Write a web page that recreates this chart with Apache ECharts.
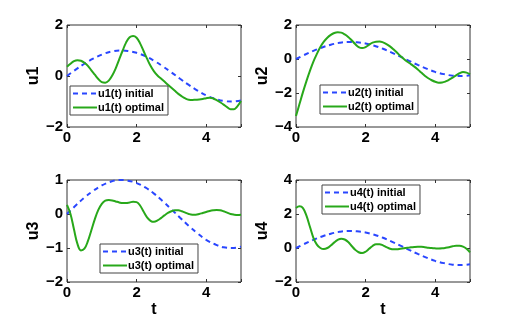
<!DOCTYPE html>
<html><head><meta charset="utf-8">
<script src="https://cdn.jsdelivr.net/npm/echarts@6/dist/echarts.min.js"></script>
<style>html,body{margin:0;padding:0;background:#fff}#c{width:519px;height:327px}</style>
</head><body><div id="c"></div>
<script>
// time grids
var tInit = [0,0.25,0.5,0.75,1,1.25,1.5,1.75,2,2.25,2.5,2.75,3,3.25,3.5,3.75,4,4.25,4.5,4.75,5];
var tOpt = [0,0.1,0.2,0.3,0.4,0.5,0.6,0.7,0.8,0.9,1,1.1,1.2,1.3,1.4,1.5,1.6,1.7,1.8,1.9,2,2.1,2.2,2.3,2.4,2.5,2.6,2.7,2.8,2.9,3,3.1,3.2,3.3,3.4,3.5,3.6,3.7,3.8,3.9,4,4.1,4.2,4.3,4.4,4.5,4.6,4.7,4.8,4.9,5];

// initial controls (blue dashed)
var u1Init = [0,0.25,0.48,0.68,0.84,0.95,1.0,0.98,0.91,0.78,0.6,0.38,0.14,-0.11,-0.35,-0.57,-0.76,-0.89,-0.98,-1.0,-0.96];
var u2Init = [0,0.25,0.48,0.68,0.84,0.95,1.0,0.98,0.91,0.78,0.6,0.38,0.14,-0.11,-0.35,-0.57,-0.76,-0.89,-0.98,-1.0,-0.96];
var u3Init = [0,0.25,0.48,0.68,0.84,0.95,1.0,0.98,0.91,0.78,0.6,0.38,0.14,-0.11,-0.35,-0.57,-0.76,-0.89,-0.98,-1.0,-0.96];
var u4Init = [0,0.25,0.48,0.68,0.84,0.95,1.0,0.98,0.91,0.78,0.6,0.38,0.14,-0.11,-0.35,-0.57,-0.76,-0.89,-0.98,-1.0,-0.96];

// optimal controls (green solid)
var u1Opt = [0.36,0.48,0.58,0.62,0.60,0.52,0.40,0.22,0.05,-0.12,-0.24,-0.26,-0.18,0.02,0.30,0.65,1.00,1.32,1.52,1.57,1.50,1.28,0.98,0.68,0.40,0.18,0.02,-0.10,-0.22,-0.34,-0.46,-0.58,-0.70,-0.80,-0.88,-0.93,-0.94,-0.93,-0.92,-0.90,-0.87,-0.85,-0.88,-0.95,-1.03,-1.12,-1.22,-1.30,-1.30,-1.18,-0.98];
var u2Opt = [-3.35,-2.65,-1.95,-1.3,-0.7,-0.15,0.3,0.7,1.02,1.25,1.42,1.53,1.57,1.55,1.45,1.3,1.1,0.88,0.7,0.64,0.7,0.84,0.96,1.02,1.03,0.98,0.88,0.74,0.57,0.38,0.18,0.0,-0.16,-0.3,-0.45,-0.62,-0.8,-0.98,-1.13,-1.25,-1.34,-1.39,-1.38,-1.32,-1.22,-1.1,-0.96,-0.84,-0.77,-0.8,-0.9];
var u3Opt = [0.27,0.0,-0.45,-0.88,-1.07,-1.02,-0.8,-0.48,-0.15,0.12,0.3,0.39,0.41,0.4,0.37,0.34,0.32,0.32,0.34,0.36,0.35,0.25,0.07,-0.1,-0.2,-0.23,-0.19,-0.12,-0.04,0.03,0.08,0.11,0.11,0.08,0.04,0.0,-0.02,-0.02,0.0,0.03,0.06,0.09,0.11,0.12,0.11,0.08,0.04,0.0,-0.02,-0.03,-0.02];
var u4Opt = [2.35,2.45,2.35,1.9,1.25,0.6,0.2,0.0,-0.06,0.0,0.15,0.33,0.48,0.55,0.5,0.35,0.12,-0.1,-0.25,-0.3,-0.22,-0.05,0.12,0.22,0.22,0.15,0.05,-0.04,-0.08,-0.08,-0.05,-0.02,0.01,0.04,0.06,0.07,0.07,0.05,0.02,0.0,-0.02,-0.03,-0.02,0.01,0.05,0.1,0.13,0.13,0.08,-0.05,-0.26];

// axis ticks
var xTicks = [0,2,4];
var xRange = [0,5];
var yTicks1 = [-2,0,2];
var yTicks2 = [-4,-2,0,2];
var yTicks3 = [-2,-1,0,1];
var yTicks4 = [-2,0,2,4];
var yNames = ['u1','u2','u3','u4'];
var legendNames = [['u1(t) initial','u1(t) optimal'],['u2(t) initial','u2(t) optimal'],['u3(t) initial','u3(t) optimal'],['u4(t) initial','u4(t) optimal']];

var inits = [u1Init,u2Init,u3Init,u4Init];
var opts = [u1Opt,u2Opt,u3Opt,u4Opt];
var yTickSets = [yTicks1,yTicks2,yTicks3,yTicks4];

function pairs(t, v){ return t.map(function(x,i){return [x,v[i]];}); }
function fmt(v){ return v < 0 ? '\u2212' + Math.abs(v) : String(v); }
function fmtX(v){ return xTicks.indexOf(v) >= 0 ? fmt(v) : ''; }

var FONT = '"Liberation Sans", Arial, sans-serif';
var grids = [
  {left:67, top:25, width:174, height:102},
  {left:296, top:25, width:174, height:102},
  {left:67, top:180, width:174, height:102},
  {left:296, top:180, width:174, height:102}
];
var legendPos = [
  {left:70, top:86},
  {left:320, top:85},
  {left:100, top:244},
  {left:322, top:185}
];

var option = {
  animation:false,
  backgroundColor:'#fff',
  grid: grids.map(function(g){ return Object.assign({show:true, borderColor:'#333', borderWidth:1, backgroundColor:'#fff'}, g); }),
  xAxis: [], yAxis: [], series: [], legend: []
};

var tickStyle = {show:true, inside:true, length:3, lineStyle:{color:'#333'}};
for (var k=0;k<4;k++){
  var yt = yTickSets[k];
  var ymin = yt[0], ymax = yt[yt.length-1], yint = yt[1]-yt[0];
  var bottomRow = k>=2;
  option.xAxis.push({
    type:'value', gridIndex:k, position:'bottom', min:xRange[0], max:xRange[1], interval:xTicks[1]-xTicks[0],
    axisLine:{show:false, onZero:false}, splitLine:{show:false},
    axisTick:tickStyle,
    axisLabel:{show:true, margin:3, color:'#000', fontFamily:FONT, fontWeight:'bold', fontSize:15, formatter:fmtX},
    name: bottomRow ? 't' : '', nameLocation:'middle', nameGap:20,
    nameTextStyle:{color:'#000', fontFamily:FONT, fontWeight:'bold', fontSize:16}
  });
  option.yAxis.push({
    type:'value', gridIndex:k, position:'left', min:ymin, max:ymax, interval:yint,
    axisLine:{show:false, onZero:false}, splitLine:{show:false},
    axisTick:tickStyle,
    axisLabel:{show:true, margin:4, color:'#000', fontFamily:FONT, fontWeight:'bold', fontSize:15, formatter:fmt},
    name: yNames[k], nameLocation:'middle', nameGap:25, nameRotate:90,
    nameTextStyle:{color:'#000', fontFamily:FONT, fontWeight:'bold', fontSize:16}
  });
}
// mirrored ticks on top/right
for (var k=0;k<4;k++){
  var yt = yTickSets[k];
  option.xAxis.push({
    type:'value', gridIndex:k, position:'top', min:xRange[0], max:xRange[1], interval:xTicks[1]-xTicks[0],
    axisLine:{show:false, onZero:false}, splitLine:{show:false}, axisLabel:{show:false},
    axisTick:tickStyle
  });
  option.yAxis.push({
    type:'value', gridIndex:k, position:'right', min:yt[0], max:yt[yt.length-1], interval:yt[1]-yt[0],
    axisLine:{show:false, onZero:false}, splitLine:{show:false}, axisLabel:{show:false},
    axisTick:tickStyle
  });
}

for (var k=0;k<4;k++){
  option.series.push({
    type:'line', name:legendNames[k][0], xAxisIndex:k, yAxisIndex:k,
    data:pairs(tInit, inits[k]), showSymbol:false, symbol:'none', smooth:0.4,
    lineStyle:{color:'#2946ff', width:2, type:[5,4]}, itemStyle:{color:'#2946ff'}, z:2
  });
  option.series.push({
    type:'line', name:legendNames[k][1], xAxisIndex:k, yAxisIndex:k,
    data:pairs(tOpt, opts[k]), showSymbol:false, symbol:'none', smooth:0.4,
    lineStyle:{color:'#28a81a', width:2}, itemStyle:{color:'#28a81a'}, z:3
  });
  option.legend.push(Object.assign({
    data:legendNames[k], orient:'vertical', itemWidth:24, itemHeight:10, itemGap:3,
    padding:[2,4,2,2], borderColor:'#444', borderWidth:1, backgroundColor:'#fff',
    selectedMode:false, itemStyle:{opacity:0},
    textStyle:{color:'#000', fontFamily:FONT, fontWeight:'bold', fontSize:11, padding:[0,0,0,-4]}
  }, legendPos[k]));
}

var chart = echarts.init(document.getElementById('c'), null, {renderer:'canvas'});
chart.setOption(option);
</script></body></html>
